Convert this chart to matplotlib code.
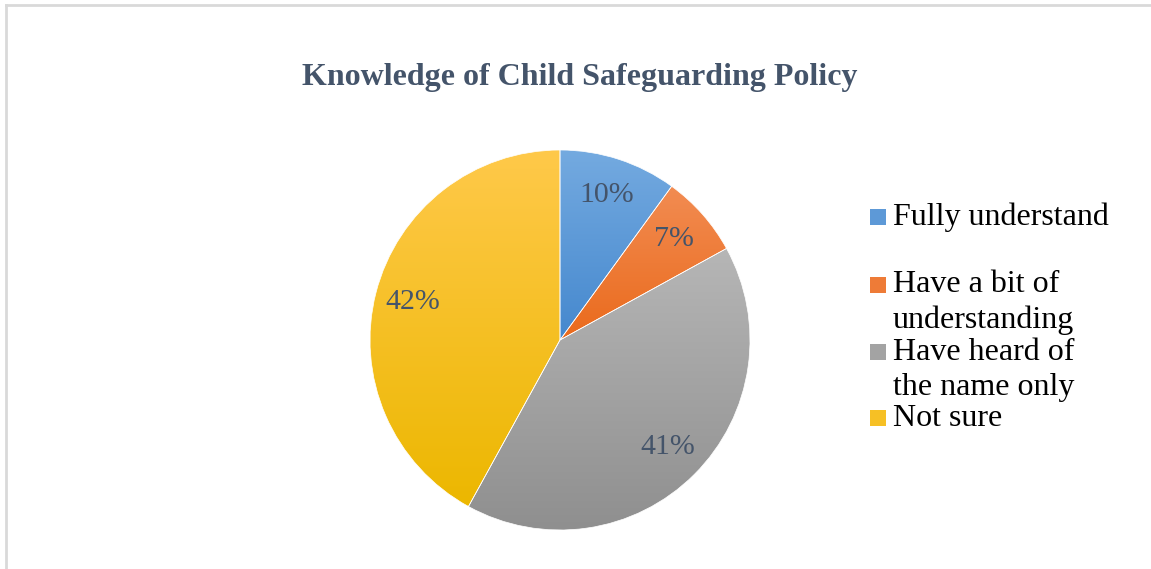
import numpy as np
import matplotlib.pyplot as plt
from matplotlib.colors import to_rgb
from matplotlib.lines import Line2D
from matplotlib.patches import Rectangle

categories = ['Fully understand', 'Have a bit of\nunderstanding',
              'Have heard of\nthe name only', 'Not sure']
shares = [10, 7, 41, 42]
top_colours = ['#74AAE0', '#F28C52', '#B6B6B6', '#FFC94A']
bottom_colours = ['#4588CE', '#EA6A1C', '#8F8F8F', '#ECB700']

W, H = 1151, 569
plt.rcParams['font.family'] = ['Liberation Serif', 'DejaVu Serif']

fig = plt.figure(figsize=(W / 100, H / 100), dpi=100)

# pie centred at (560, 340) px with radius 190 px
cx, cy, r = 560, 340, 190
ax = fig.add_axes([(cx - r) / W, (H - cy - r) / H, 2 * r / W, 2 * r / H])

wedges, texts, autotexts = ax.pie(
    shares, startangle=90, counterclock=False,
    autopct='%1.0f%%', pctdistance=0.8,
    textprops=dict(fontsize=21.5, color='#44546A'),
    wedgeprops=dict(linewidth=0.5, edgecolor='#FFFFFF'))

# vertical gradient inside each slice
for w, c0, c1 in zip(wedges, top_colours, bottom_colours):
    bb = w.get_path().get_extents()
    t = np.linspace(0, 1, 256)[:, None, None]
    grad = (1 - t) * np.array(to_rgb(c0)) + t * np.array(to_rgb(c1))
    im = ax.imshow(grad, extent=[bb.x0, bb.x1, bb.y0, bb.y1], origin='upper',
                   aspect='auto', interpolation='bilinear', zorder=0.5)
    im.set_clip_path(w)
    w.set_facecolor('none')

ax.set_xlim(-1, 1)
ax.set_ylim(-1, 1)
ax.set_aspect('equal')
ax.axis('off')

fig.text(580 / W, 1 - 78 / H, 'Knowledge of Child Safeguarding Policy',
         fontsize=23, fontweight='bold', color='#44546A',
         ha='center', va='center')

# legend, one entry per category
entry_y = [217, 285, 352, 418]
line_gap = 35
for label, y, c0, c1 in zip(categories, entry_y, top_colours, bottom_colours):
    mid = (np.array(to_rgb(c0)) + np.array(to_rgb(c1))) / 2
    fig.patches.append(Rectangle((870 / W, 1 - (y + 8) / H), 16 / W, 16 / H,
                                 transform=fig.transFigure, facecolor=mid,
                                 edgecolor='none'))
    for i, line in enumerate(label.split('\n')):
        fig.text(893 / W, 1 - (y + i * line_gap) / H, line, fontsize=23,
                 color='black', ha='left', va='center')

# light frame along the top and left edges
frame = dict(color='#D9D9D9', linewidth=2, transform=fig.transFigure)
fig.lines.append(Line2D([6 / W, 1], [1 - 5 / H, 1 - 5 / H], **frame))
fig.lines.append(Line2D([6 / W, 6 / W], [0, 1 - 5 / H], **frame))

fig.savefig('out.png', dpi=100)
